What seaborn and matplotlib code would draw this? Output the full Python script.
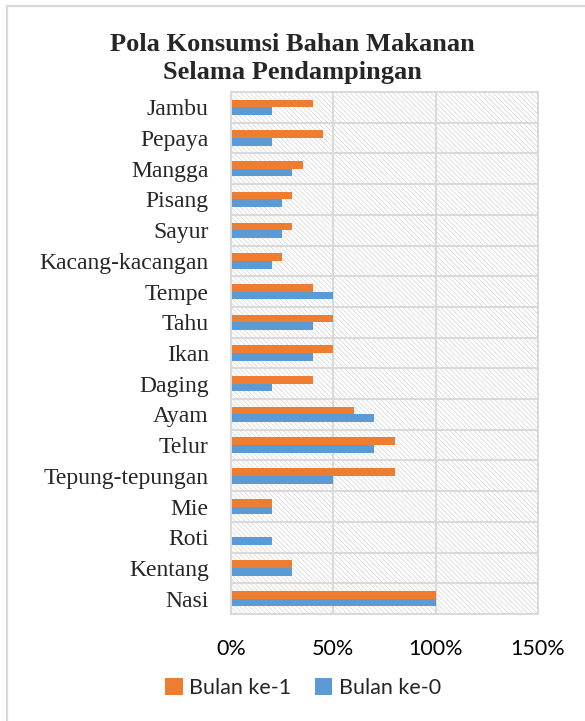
import numpy as np
import pandas as pd
import matplotlib.pyplot as plt
import seaborn as sns
from matplotlib.patches import Rectangle
from matplotlib.lines import Line2D

items = ["Jambu", "Pepaya", "Mangga", "Pisang", "Sayur", "Kacang-kacangan",
         "Tempe", "Tahu", "Ikan", "Daging", "Ayam", "Telur",
         "Tepung-tepungan", "Mie", "Roti", "Kentang", "Nasi"]
bulan1 = [40, 45, 35, 30, 30, 25, 40, 50, 50, 40, 60, 80, 80, 20, 0, 30, 100]
bulan0 = [20, 20, 30, 25, 25, 20, 50, 40, 40, 20, 70, 70, 50, 20, 20, 30, 100]
series = ["Bulan ke-1", "Bulan ke-0"]
xticks = [0, 50, 100, 150]

df = pd.DataFrame({
    "item": items * 2,
    "nilai": bulan1 + bulan0,
    "bulan": [series[0]] * len(items) + [series[1]] * len(items),
})

sns.set_style("white")
plt.rcParams['font.family'] = ['Lato', 'DejaVu Sans']
plt.rcParams['hatch.linewidth'] = 0.5

grey = "#d9d9d9"
fig = plt.figure(figsize=(5.85, 7.21), dpi=100)
ax = fig.add_axes([231 / 585, 1 - 614 / 721, 307 / 585, 522 / 721])

ax.add_patch(Rectangle((0, 0), 1, 1, transform=ax.transAxes, facecolor="white",
                       edgecolor="#d4d4d4", hatch="\\" * 7, lw=0, zorder=0))

sns.barplot(data=df, x="nilai", y="item", hue="bulan", order=items,
            hue_order=series, palette=["#ED7D31", "#5B9BD5"], orient="h",
            width=0.5, gap=0, saturation=1, linewidth=0, ax=ax, zorder=2)

ax.set_xlim(0, 150)
ax.set_ylim(len(items) - 0.5, -0.5)
ax.set_xticks(xticks)
ax.set_xticklabels([f"{v}%" for v in xticks], fontsize=15.5)
ax.set_yticks(np.arange(-0.5, len(items), 1), minor=True)
for lab in ax.get_yticklabels():
    lab.set_fontfamily("Liberation Serif")
    lab.set_fontsize(17)
ax.tick_params(axis="x", length=0, pad=18, colors="#000000")
ax.tick_params(axis="y", which="major", length=0, pad=16)
ax.tick_params(axis="y", which="minor", length=5, width=1.4, color=grey)
ax.set_axisbelow(True)
ax.grid(axis="x", which="major", color=grey, lw=1.4)
ax.grid(axis="y", which="minor", color=grey, lw=1.4)
ax.grid(axis="y", which="major", visible=False)
for s in ax.spines.values():
    s.set_color(grey)
    s.set_linewidth(1.4)
ax.set_xlabel("")
ax.set_ylabel("")

handles, labels = ax.get_legend_handles_labels()
ax.get_legend().remove()
fig.legend(handles, labels, loc="center", bbox_to_anchor=(303 / 585, 1 - 688 / 721),
           ncol=2, frameon=False, handlelength=0.8, handleheight=0.8,
           handletextpad=0.3, columnspacing=1.1, prop={"family": "Lato", "size": 15.5})

fig.text(0.5, 1 - 33 / 721, "Pola Konsumsi Bahan Makanan\nSelama Pendampingan",
         ha="center", va="top", fontsize=19, fontweight="bold",
         family="Liberation Serif", linespacing=1.25)

fig.add_artist(Line2D([7 / 585, 1], [1 - 5.5 / 721] * 2, color=grey, lw=1.6))
fig.add_artist(Line2D([7 / 585] * 2, [0, 1 - 5.5 / 721], color=grey, lw=1.6))

fig.savefig("out.png", dpi=100)
